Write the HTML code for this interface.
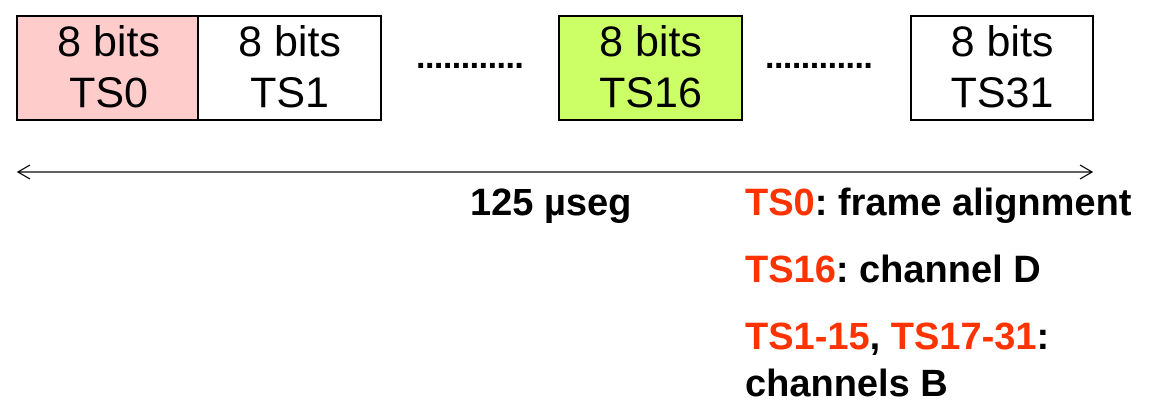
<!DOCTYPE html>
<html><head><style>
body{margin:0;width:1150px;height:404px;background:#fff;position:relative;overflow:hidden;font-family:"Liberation Sans",sans-serif}
.b{position:absolute;top:15px;border:2px solid #000;box-sizing:content-box;text-align:center;font-size:43px;line-height:51px;padding-top:0;height:102px}
.t{position:absolute;font-weight:bold;font-size:38px;line-height:38px;white-space:nowrap}
.r{color:#ff3300}
.d{position:absolute;top:38px;font-size:34px;font-weight:bold;letter-spacing:-0.5px}
</style></head><body>
<div class="b" style="left:16px;width:181px;background:#ffcccc">8 bits<br>TS0</div>
<div class="b" style="left:197px;width:181px;background:#fff">8 bits<br>TS1</div>
<div class="b" style="left:558px;width:181px;background:#ccff66">8 bits<br>TS16</div>
<div class="b" style="left:910px;width:180px;background:#fff">8 bits<br>TS31</div>
<div class="d" style="left:416px">............</div>
<div class="d" style="left:765px">............</div>
<svg style="position:absolute;left:0;top:0" width="1150" height="404">
<line x1="18" y1="172" x2="1092" y2="172" stroke="#000" stroke-width="1.3"/>
<polyline points="30,165 18,172 30,179" fill="none" stroke="#000" stroke-width="1.3"/>
<polyline points="1080,165 1092,172 1080,179" fill="none" stroke="#000" stroke-width="1.3"/>
</svg>
<div class="t" style="left:470px;top:184px">125 µseg</div>
<div class="t" style="left:745px;top:184px"><span class="r">TS0</span>: frame alignment</div>
<div class="t" style="left:745px;top:251px"><span class="r">TS16</span>: channel D</div>
<div class="t" style="left:745px;top:318px"><span class="r">TS1-15</span>, <span class="r">TS17-31</span>:</div>
<div class="t" style="left:745px;top:365px">channels B</div>
</body></html>
